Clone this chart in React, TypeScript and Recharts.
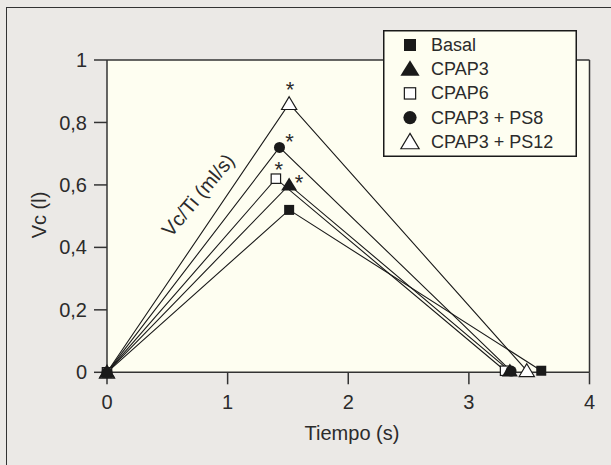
import React from 'react';
import { LineChart, Line, XAxis, YAxis, CartesianGrid, ReferenceLine, Legend } from 'recharts';

// ---- data ----
const basal = [
  { t: 0, v: 0 },
  { t: 1.51, v: 0.52 },
  { t: 3.6, v: 0.005 },
];
const cpap3 = [
  { t: 0, v: 0 },
  { t: 1.51, v: 0.6, sig: true },
  { t: 3.34, v: 0.004 },
];
const cpap6 = [
  { t: 0, v: 0 },
  { t: 1.4, v: 0.62, sig: true },
  { t: 3.3, v: 0.005 },
];
const ps8 = [
  { t: 0, v: 0 },
  { t: 1.43, v: 0.72, sig: true },
  { t: 3.35, v: 0.004 },
];
const ps12 = [
  { t: 0, v: 0 },
  { t: 1.51, v: 0.86, sig: true },
  { t: 3.48, v: 0.005 },
];
const xTicks = [0, 1, 2, 3, 4];
const yTicks = [0, 0.2, 0.4, 0.6, 0.8, 1];
const xTitle = 'Tiempo (s)';
const yTitle = 'Vc (l)';
const annotation = 'Vc/Ti (ml/s)';

type Shape = 'fsq' | 'ftri' | 'osq' | 'fcir' | 'otri';

const legendOrder: { key: string; name: string; shape: Shape }[] = [
  { key: 'basal', name: 'Basal', shape: 'fsq' },
  { key: 'cpap3', name: 'CPAP3', shape: 'ftri' },
  { key: 'cpap6', name: 'CPAP6', shape: 'osq' },
  { key: 'ps8', name: 'CPAP3 + PS8', shape: 'fcir' },
  { key: 'ps12', name: 'CPAP3 + PS12', shape: 'otri' },
];

// drawing order (last on top)
const drawOrder: { key: string; data: any[]; shape: Shape }[] = [
  { key: 'ps12', data: ps12, shape: 'otri' },
  { key: 'basal', data: basal, shape: 'fsq' },
  { key: 'cpap6', data: cpap6, shape: 'osq' },
  { key: 'cpap3', data: cpap3, shape: 'ftri' },
  { key: 'ps8', data: ps8, shape: 'fcir' },
];

// asterisk offsets (style)
const starOffset: Record<string, { dx: number; dy: number }> = {
  ps12: { dx: 1, dy: -19 },
  ps8: { dx: 10, dy: -11 },
  cpap6: { dx: 3, dy: -14 },
  cpap3: { dx: 10, dy: -7 },
};

const INK = '#1a1a1a';
const TEXT = '#2b2b2b';
const FONT = '"Liberation Sans", Arial, Helvetica, sans-serif';
const BG = '#ebe9e6';
const PLOT_BG = '#fefef1';

function Marker({ shape, cx, cy, s = 1 }: { shape: Shape; cx: number; cy: number; s?: number }) {
  switch (shape) {
    case 'fsq':
      return <rect x={cx - 5 * s} y={cy - 5 * s} width={10 * s} height={10 * s} fill={INK} />;
    case 'osq':
      return (
        <rect x={cx - 4.7 * s} y={cy - 4.7 * s} width={9.4 * s} height={9.4 * s} fill="#fff" stroke={INK} strokeWidth={1.2} />
      );
    case 'ftri':
      return (
        <polygon
          points={`${cx},${cy - 7.5 * s} ${cx + 8 * s},${cy + 5.5 * s} ${cx - 8 * s},${cy + 5.5 * s}`}
          fill={INK}
        />
      );
    case 'otri':
      return (
        <polygon
          points={`${cx},${cy - 7 * s} ${cx + 7.6 * s},${cy + 5.8 * s} ${cx - 7.6 * s},${cy + 5.8 * s}`}
          fill="#fff"
          stroke={INK}
          strokeWidth={1.2}
        />
      );
    case 'fcir':
    default:
      return <circle cx={cx} cy={cy} r={5.5 * s} fill={INK} />;
  }
}

const makeDot = (key: string, shape: Shape) => (props: any) => {
  const { cx, cy, payload, index } = props;
  if (cx == null || cy == null) return <g key={`${key}-${index}`} />;
  const off = starOffset[key];
  return (
    <g key={`${key}-${index}`}>
      <Marker shape={shape} cx={cx} cy={cy} />
      {payload && payload.sig && off ? (
        <text
          x={cx + off.dx}
          y={cy + off.dy + 12.5}
          textAnchor="middle"
          fontSize={22}
          fontFamily={FONT}
          fill={TEXT}
        >
          *
        </text>
      ) : null}
    </g>
  );
};

const fmt = (v: number) => String(v).replace('.', ',');

const renderLegend = () => (
  <svg width={194} height={127} style={{ display: 'block' }}>
    <rect x={0.75} y={0.75} width={192.5} height={125.5} fill={PLOT_BG} stroke={INK} strokeWidth={1.5} />
    {legendOrder.map((item, i) => {
      const cy = 15 + i * 24.2;
      return (
        <g key={item.key}>
          <Marker shape={item.shape} cx={27} cy={cy} s={1.2} />
          <text x={48} y={cy} dominantBaseline="central" fontSize={18} fontFamily={FONT} fill={TEXT}>
            {item.name}
          </text>
        </g>
      );
    })}
  </svg>
);

export default function App() {
  return (
    <div style={{ position: 'absolute', left: 0, top: 0, width: 611, height: 465, background: BG, overflow: 'hidden' }}>
      <div
        style={{
          position: 'absolute',
          left: 6,
          top: 7,
          width: 620,
          height: 480,
          borderLeft: `1.5px solid #333`,
          borderTop: `1.5px solid #333`,
        }}
      />
      <div style={{ position: 'absolute', left: 0, top: 0 }}>
        <LineChart width={611} height={465} margin={{ top: 60, right: 21.5, left: 0, bottom: 42.7 }}>
          <CartesianGrid fill={PLOT_BG} horizontal={false} vertical={false} />
          <XAxis
            type="number"
            dataKey="t"
            domain={[0, 4]}
            ticks={xTicks}
            allowDuplicatedCategory={false}
            height={50}
            tickSize={12}
            tickMargin={10}
            stroke="#333"
            strokeWidth={1.5}
            tick={{ fontSize: 20, fill: TEXT, fontFamily: FONT }}
            tickFormatter={fmt}
            label={{
              content: () => (
                <text x={352} y={440} textAnchor="middle" fontSize={20} fontFamily={FONT} fill={TEXT}>
                  {xTitle}
                </text>
              ),
            }}
          />
          <YAxis
            type="number"
            dataKey="v"
            domain={[0, 1]}
            ticks={yTicks}
            width={107}
            tickSize={13}
            tickMargin={7}
            stroke="#333"
            strokeWidth={1.5}
            tick={{ fontSize: 20, fill: TEXT, fontFamily: FONT }}
            tickFormatter={fmt}
            label={{
              content: () => (
                <g>
                  <text
                    x={39}
                    y={215}
                    transform="rotate(-90, 39, 215)"
                    textAnchor="middle"
                    dominantBaseline="central"
                    fontSize={20}
                    fontFamily={FONT}
                    fill={TEXT}
                  >
                    {yTitle}
                  </text>
                  <text
                    x={198}
                    y={195}
                    transform="rotate(-50, 198, 195)"
                    textAnchor="middle"
                    dominantBaseline="central"
                    fontSize={20}
                    fontFamily={FONT}
                    fill={TEXT}
                  >
                    {annotation}
                  </text>
                </g>
              ),
            }}
          />
          <ReferenceLine y={1} stroke="#333" strokeWidth={1.5} />
          <ReferenceLine x={4} stroke="#333" strokeWidth={1.5} />
          {drawOrder.map((s) => (
            <Line
              key={s.key}
              data={s.data}
              dataKey="v"
              type="linear"
              stroke={INK}
              strokeWidth={1.1}
              dot={makeDot(s.key, s.shape)}
              activeDot={false}
              isAnimationActive={false}
              legendType="none"
            />
          ))}
          <Legend
            layout="vertical"
            align="center"
            verticalAlign="middle"
            content={renderLegend}
            wrapperStyle={{ position: 'absolute', left: 383, top: 30, width: 194, height: 127 }}
          />
        </LineChart>
      </div>
    </div>
  );
}
